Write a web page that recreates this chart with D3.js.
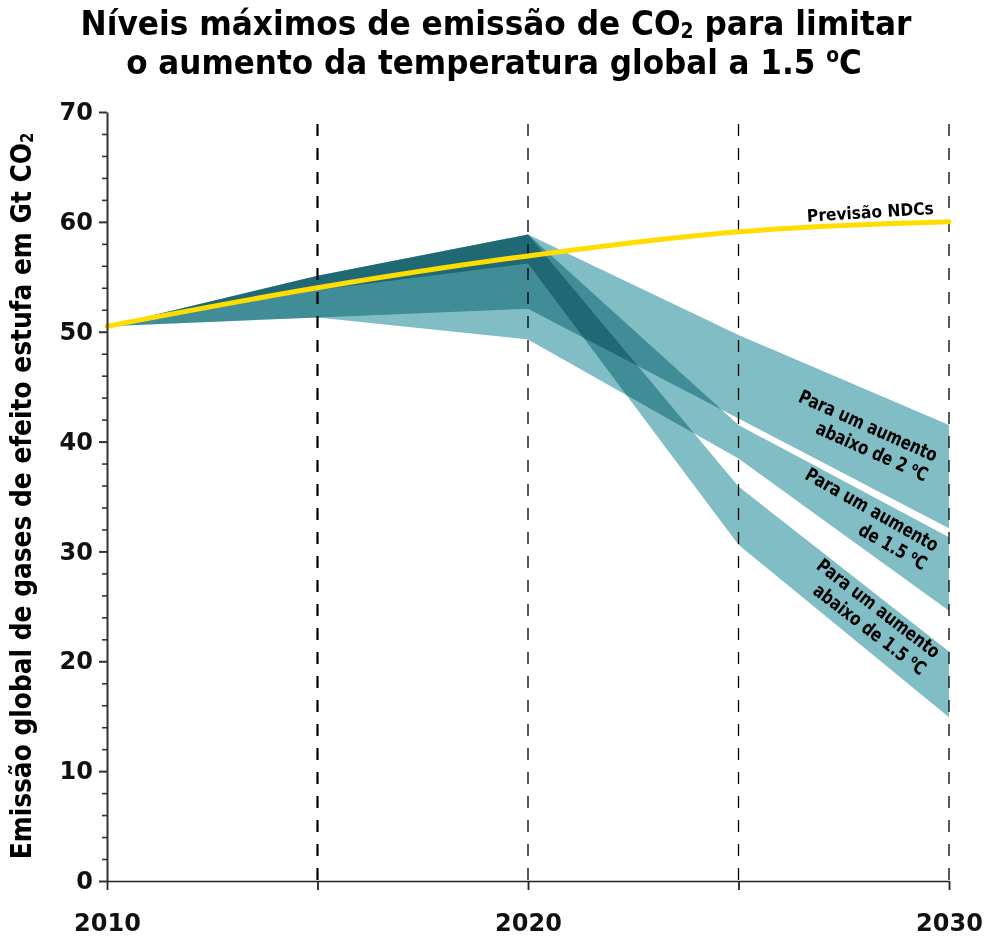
<!DOCTYPE html>
<html>
<head>
<meta charset="utf-8">
<script src="https://cdn.jsdelivr.net/npm/d3@7"></script>
<style>
  body { margin: 0; background: #fff; }
  svg { display: block; }
</style>
</head>
<body>
<svg id="chart" width="986" height="940"></svg>
<script>
// ---------- DATA ----------
const years = [2010, 2015, 2020, 2025, 2030];
const ndcForecast = [50.5, 54.0, 56.9, 59.1, 60.0];

const below2Lower = [50.5, 51.3, 52.1, 42.1, 32.1];
const below2Upper = [50.5, 55.1, 58.85, 49.7, 41.5];

const at15Lower = [50.5, 51.3, 49.3, 38.45, 24.6];
const at15Upper = [50.5, 55.1, 58.85, 41.5, 31.3];

const below15Lower = [50.5, 53.8, 56.2, 30.6, 14.9];
const below15Upper = [50.5, 55.1, 58.85, 35.9, 20.9];

const yMajorTicks = [0, 10, 20, 30, 40, 50, 60, 70];
const yMinorTicks = [2, 4, 6, 8, 12, 14, 16, 18, 22, 24, 26, 28, 32, 34, 36, 38, 42, 44, 46, 48, 52, 54, 56, 58, 62, 64, 66, 68];
const xTickYears = [2010, 2015, 2020, 2025, 2030];
const xLabelYears = [2010, 2020, 2030];
const dashedYears = [2015, 2020, 2025, 2030];

const titleLine1 = ["Níveis máximos de emissão de CO", "2", " para limitar"];
const titleLine2 = ["o aumento da temperatura global a 1.5 ", "o", "C"];
const yAxisTitle = ["Emissão global de gases de efeito estufa em Gt CO", "2"];
const ndcLabel = "Previsão NDCs";
const bandLabels = [
  ["Para um aumento", "abaixo de 2 ", "o", "C"],
  ["Para um aumento", "de 1.5 ", "o", "C"],
  ["Para um aumento", "abaixo de 1.5 ", "o", "C"]
];

// ---------- SETUP ----------
const condFont = "'Liberation Sans Narrow','DejaVu Sans Condensed','Roboto Condensed','Open Sans',sans-serif";
const tickFont = "'DejaVu Sans',sans-serif";
const svg = d3.select("#chart");
svg.append("rect").attr("width", 986).attr("height", 940).attr("fill", "#fff");

const x = d3.scaleLinear().domain([2010, 2030]).range([107, 949]);
const y = d3.scaleLinear().domain([0, 70]).range([881, 112]);

// ---------- BANDS ----------
const bands = [
  { lower: below2Lower, upper: below2Upper },
  { lower: at15Lower, upper: at15Upper },
  { lower: below15Lower, upper: below15Upper }
];
const area = d3.area()
  .x(d => x(d.year))
  .y0(d => y(d.lo))
  .y1(d => y(d.hi));

const bandG = svg.append("g");
bands.forEach(b => {
  const pts = years.map((yr, i) => ({ year: yr, lo: b.lower[i], hi: b.upper[i] }));
  bandG.append("path")
    .datum(pts)
    .attr("d", area)
    .attr("fill", "#80bdc4")
    .style("mix-blend-mode", "multiply");
});

// ---------- DASHED VERTICALS ----------
svg.append("g").selectAll("line")
  .data(dashedYears)
  .join("line")
  .attr("x1", d => x(d)).attr("x2", d => x(d))
  .attr("y1", y(70)).attr("y2", y(0))
  .attr("stroke", "#000")
  .attr("stroke-width", d => d === 2015 ? 2.2 : 1.3)
  .attr("stroke-dasharray", "12,12")
  .attr("stroke-dashoffset", 12);

// ---------- NDC LINE ----------
const line = d3.line()
  .x((d, i) => x(years[i]))
  .y(d => y(d))
  .curve(d3.curveMonotoneX);
svg.append("path")
  .datum(ndcForecast)
  .attr("d", line)
  .attr("fill", "none")
  .attr("stroke", "#ffdd00")
  .attr("stroke-width", 5)
  .attr("stroke-linecap", "round");

// ---------- AXES ----------
const yAxisG = svg.append("g").attr("transform", `translate(${x(2010)},0)`);
yAxisG.call(d3.axisLeft(y).tickValues(yMajorTicks).tickSize(8).tickSizeOuter(0).tickPadding(6).tickFormat(d3.format("d")));
yAxisG.select(".domain").attr("stroke", "#333").attr("stroke-width", 2);
yAxisG.selectAll(".tick line").attr("stroke", "#333").attr("stroke-width", 2);
yAxisG.selectAll(".tick text")
  .attr("font-family", tickFont).attr("font-weight", "bold").attr("font-size", 24).attr("fill", "#111");

const yMinorG = svg.append("g").attr("transform", `translate(${x(2010)},0)`);
yMinorG.call(d3.axisLeft(y).tickValues(yMinorTicks).tickSize(5).tickFormat(""));
yMinorG.select(".domain").remove();
yMinorG.selectAll(".tick line").attr("stroke", "#333").attr("stroke-width", 1.6);

const xAxisG = svg.append("g").attr("transform", `translate(0,${y(0)})`);
xAxisG.call(d3.axisBottom(x).tickValues(xTickYears).tickSize(9).tickSizeOuter(0).tickPadding(24)
  .tickFormat(d => xLabelYears.includes(d) ? String(d) : ""));
xAxisG.select(".domain").attr("stroke", "#222").attr("stroke-width", 1.5);
xAxisG.selectAll(".tick line").attr("stroke", "#222").attr("stroke-width", 1.8);
xAxisG.selectAll(".tick text")
  .attr("font-family", tickFont).attr("font-weight", "bold").attr("font-size", 24).attr("fill", "#111");

// ---------- RICH TEXT HELPER ----------
function richText(parent, parts, modes, fontSize) {
  const t = parent.append("text")
    .attr("font-family", condFont)
    .attr("font-weight", "bold")
    .attr("font-size", fontSize)
    .attr("fill", "#000");
  let shift = 0;
  parts.forEach((p, i) => {
    const m = modes[i];
    const ts = t.append("tspan").text(p);
    let target = 0;
    if (m === "sub") { ts.attr("font-size", fontSize * 0.6); target = fontSize * 0.08; }
    if (m === "sup") { ts.attr("font-size", fontSize * 0.6); target = -fontSize * 0.34; }
    const dy = target - shift;
    if (dy !== 0) ts.attr("dy", dy);
    shift = target;
  });
  return t;
}
function fit(textSel, targetW) {
  const w = textSel.node().getBBox().width;
  return targetW / w;
}

// ---------- TITLE ----------
const t1g = svg.append("g");
const t1 = richText(t1g, titleLine1, ["n", "sub", "n"], 34).attr("text-anchor", "middle");
t1g.attr("transform", `translate(496,35) scale(${fit(t1, 832)},1)`);

const t2g = svg.append("g");
const t2 = richText(t2g, titleLine2, ["n", "sup", "n"], 34).attr("text-anchor", "middle");
t2g.attr("transform", `translate(494,74) scale(${fit(t2, 736)},1)`);

// ---------- Y TITLE ----------
const ytg = svg.append("g");
const yt = richText(ytg, yAxisTitle, ["n", "sub"], 29).attr("text-anchor", "middle");
ytg.attr("transform", `translate(31,496) rotate(-90) scale(${fit(yt, 727)},1)`);

// ---------- NDC LABEL ----------
const ng = svg.append("g");
const nt = richText(ng, [ndcLabel], ["n"], 17).attr("text-anchor", "end");
ng.attr("transform", `translate(934,214) rotate(-3.5) scale(${fit(nt, 127)},1)`);

// ---------- BAND LABELS ----------
const labelPos = [
  { x: 934, y: 462, a: 24 },
  { x: 934, y: 552, a: 29.5 },
  { x: 934, y: 659, a: 37.5 }
];
bandLabels.forEach((lab, i) => {
  const g = svg.append("g");
  const l1 = richText(g, [lab[0]], ["n"], 19).attr("text-anchor", "end");
  richText(g, [lab[1], lab[2], lab[3]], ["n", "sup", "n"], 19)
    .attr("text-anchor", "end").attr("y", 22).attr("x", -1);
  const s = fit(l1, 150);
  const p = labelPos[i];
  g.attr("transform", `translate(${p.x},${p.y}) rotate(${p.a}) scale(${s},1)`);
});
</script>
</body>
</html>
